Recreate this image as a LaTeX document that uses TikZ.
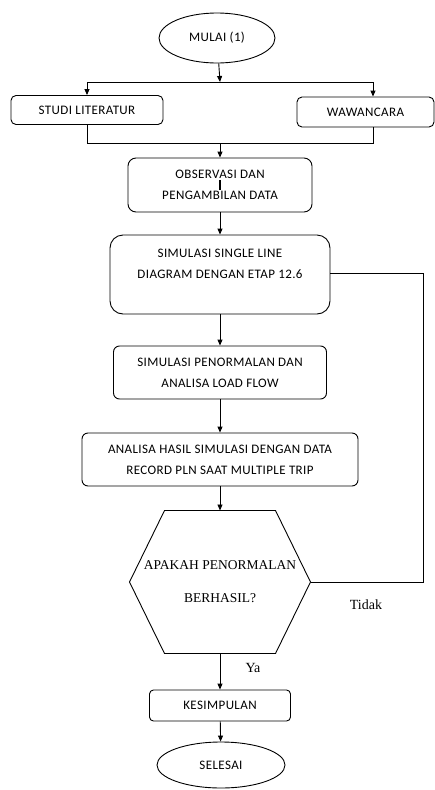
\documentclass[tikz,border=0pt]{standalone}
\usepackage{fontspec}
\setmainfont{Carlito}
\newfontfamily\boxfont{Carlito}[LetterSpace=3]
\newfontfamily\timesfont{Liberation Serif}
\usetikzlibrary{arrows.meta,shapes.geometric,positioning}

\begin{document}
\begin{tikzpicture}[x=1pt, y=-1pt,
    proc/.style={draw, rounded corners=5pt, align=center, line width=0.9pt, font=\boxfont\fontsize{13}{21}\selectfont},
    term/.style={draw, ellipse, line width=0.9pt, font=\boxfont\fontsize{13}{15}\selectfont},
    arr/.style={-{Triangle[length=6pt,width=5pt]}, line width=0.9pt},
    lin/.style={line width=0.9pt},
    lbl/.style={font=\timesfont\fontsize{14}{16}\selectfont}
]
\useasboundingbox (0,0) rectangle (435,790);

\node[term, minimum width=116pt, minimum height=50pt] (start) at (217,38) {MULAI (1)};
\node[proc, minimum width=152pt, minimum height=29pt] (studi) at (87,110) {STUDI LITERATUR};
\node[proc, minimum width=137pt, minimum height=30pt] (waw) at (365.5,112) {WAWANCARA};
\node[proc, rounded corners=8pt, minimum width=184pt, minimum height=54pt] (obs) at (220,185) {OBSERVASI DAN\\PENGAMBILAN DATA};
\node[proc, rounded corners=13pt, minimum width=220pt, minimum height=79pt] (sim) at (220,274.5) {SIMULASI SINGLE LINE\\DIAGRAM DENGAN ETAP 12.6\\\mbox{}};
\node[proc, rounded corners=6pt, minimum width=213pt, minimum height=53pt] (pen) at (220,372.5) {SIMULASI PENORMALAN DAN\\ANALISA LOAD FLOW};
\node[proc, rounded corners=6pt, minimum width=276pt, minimum height=53pt] (ana) at (220,459.5) {ANALISA HASIL SIMULASI DENGAN DATA\\RECORD PLN SAAT MULTIPLE TRIP};
\node[align=center, inner sep=0pt, outer sep=0pt, minimum width=181pt, minimum height=143pt, font=\timesfont\fontsize{13.5}{33}\selectfont] (dec) at (220,582) {APAKAH PENORMALAN\\BERHASIL?};
\node[proc, rounded corners=4pt, minimum width=141pt, minimum height=31pt] (kes) at (220,705.5) {KESIMPULAN};
\node[term, minimum width=128pt, minimum height=46pt] (stop) at (221,765) {SELESAI};

% hexagon round the decision
\draw[lin] ([xshift=35pt]dec.north west) -- ([xshift=-35pt]dec.north east) -- (dec.east)
    -- ([xshift=-35pt]dec.south east) -- ([xshift=35pt]dec.south west) -- (dec.west) -- cycle;

\coordinate (split) at (220,82);
\coordinate (sl) at (87,82);
\coordinate (sr) at (373,82);
\coordinate (merge) at (220,143);
\coordinate (ml) at (87,143);
\coordinate (mr) at (373,143);
\coordinate (back) at (423,582);

\draw[arr] (start) -- (split);
\draw[lin] (sl) -- (sr);
\draw[arr] (sl) -- (studi);
\draw[arr] (sr) -- (sr |- waw.north);
\draw[lin] (studi) -- (ml) -- (mr) -- (mr |- waw.south);
\draw[arr] (merge) -- (obs);
\draw[lin, line width=1.6pt] ([yshift=-5pt]obs.center) -- ([yshift=5pt]obs.center);
\draw[arr] (obs) -- (sim);
\draw[arr] (sim) -- (pen);
\draw[arr] (pen) -- (ana);
\draw[arr] (ana) -- (dec);
\draw[arr] (dec) -- (kes);
\draw[arr] (kes) -- (stop);
\draw[lin] (sim.east |- 0,273) -| (back) -- (dec.east);

\node[lbl] (ya) at (253,668) {Ya};
\node[lbl] (tidak) at (366,605) {Tidak};
\end{tikzpicture}
\end{document}
